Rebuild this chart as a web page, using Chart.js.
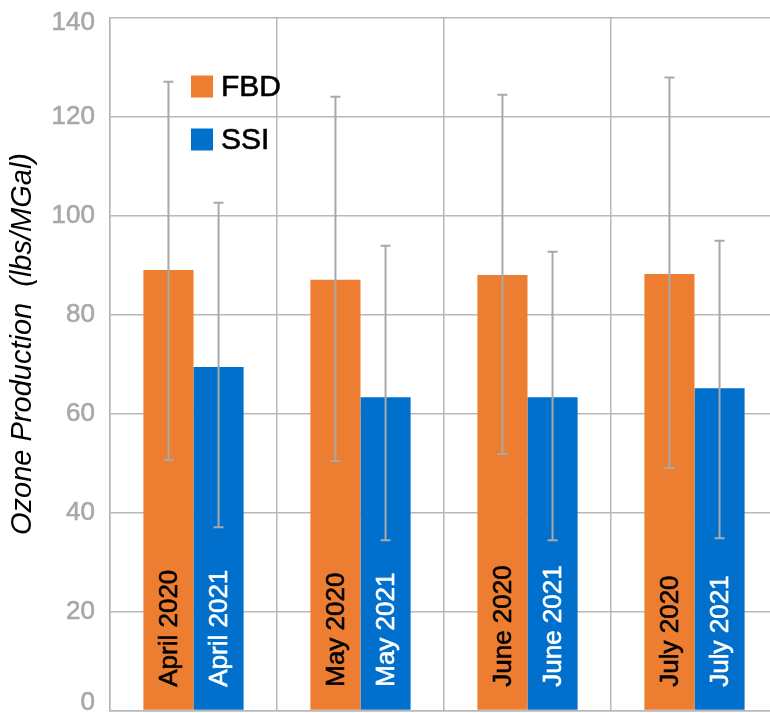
<!DOCTYPE html>
<html>
<head>
<meta charset="utf-8">
<script src="https://cdn.jsdelivr.net/npm/chart.js@4"></script>
<style>
  html, body { margin: 0; padding: 0; background: #fff; overflow: hidden; }
  #wrap { width: 790px; height: 713px; }
</style>
</head>
<body>
<div id="wrap"><canvas id="chart"></canvas></div>
<script>
// Ozone production per month, FBD vs SSI

const months = ["April", "May", "June", "July"];
const fbdLabels = ["April 2020", "May 2020", "June 2020", "July 2020"];
const ssiLabels = ["April 2021", "May 2021", "June 2021", "July 2021"];

const fbdValues = [89.0, 87.0, 88.0, 88.2];
const ssiValues = [69.4, 63.3, 63.3, 65.1];

// error bar ends (low / high)
const fbdLow = [50.6, 50.4, 51.8, 49.0];
const fbdHigh = [127.0, 124.0, 124.4, 127.9];
const ssiLow = [37.0, 34.4, 34.4, 34.8];
const ssiHigh = [102.6, 93.9, 92.7, 94.9];

const yTicks = [0, 20, 40, 60, 80, 100, 120, 140];
const yTitle = "Ozone Production  (lbs/MGal)";

const FONT = "'Liberation Sans', Arial, Helvetica, sans-serif";
const GRID = "#b8b8b8";

// slightly heavier text, closer to the original rendering
function heavyText(ctx, text, x, y, color) {
    ctx.fillStyle = color;
    ctx.strokeStyle = color;
    ctx.lineWidth = 0.6;
    ctx.fillText(text, x, y);
    ctx.strokeText(text, x, y);
}

const errorBars = {
    id: "errorBars",
    afterDatasetsDraw(chart) {
        const ctx = chart.ctx;
        const y = chart.scales.y;
        const ranges = [[fbdLow, fbdHigh], [ssiLow, ssiHigh]];
        ctx.save();
        ctx.strokeStyle = "#a9a9a9";
        ctx.lineWidth = 2;
        ranges.forEach(([lo, hi], di) => {
            chart.getDatasetMeta(di).data.forEach((bar, i) => {
                const yl = y.getPixelForValue(lo[i]);
                const yh = y.getPixelForValue(hi[i]);
                ctx.beginPath();
                ctx.moveTo(bar.x, yl);
                ctx.lineTo(bar.x, yh);
                ctx.moveTo(bar.x - 5, yl);
                ctx.lineTo(bar.x + 5, yl);
                ctx.moveTo(bar.x - 5, yh);
                ctx.lineTo(bar.x + 5, yh);
                ctx.stroke();
            });
        });
        ctx.restore();
    }
};

const barText = {
    id: "barText",
    afterDatasetsDraw(chart) {
        const ctx = chart.ctx;
        const sets = [[fbdLabels, "#000"], [ssiLabels, "#fff"]];
        ctx.save();
        ctx.font = "26px " + FONT;
        ctx.textAlign = "left";
        ctx.textBaseline = "middle";
        sets.forEach(([labels, color], di) => {
            chart.getDatasetMeta(di).data.forEach((bar, i) => {
                ctx.save();
                ctx.translate(bar.x + 1, bar.base - 23);
                ctx.rotate(-Math.PI / 2);
                heavyText(ctx, labels[i], 0, 0, color);
                ctx.restore();
            });
        });
        ctx.restore();
    }
};

// y tick labels + axis title, drawn from the y scale
const yAxisText = {
    id: "yAxisText",
    afterDraw(chart) {
        const ctx = chart.ctx;
        const y = chart.scales.y;
        const area = chart.chartArea;
        ctx.save();
        ctx.font = "26px " + FONT;
        ctx.textAlign = "right";
        ctx.textBaseline = "middle";
        y.ticks.forEach((t) => {
            let py = y.getPixelForValue(t.value);
            py = Math.min(Math.max(py, area.top + 5), area.bottom - 8);
            heavyText(ctx, String(t.value), area.left - 15, py, "#a8a8a8");
        });
        ctx.font = "italic 29px " + FONT;
        ctx.fillStyle = "#000";
        ctx.textAlign = "center";
        ctx.translate(23, (area.top + area.bottom) / 2 - 20);
        ctx.rotate(-Math.PI / 2);
        ctx.fillText(yTitle, 0, 0);
        ctx.restore();
    }
};

const innerLegend = {
    id: "innerLegend",
    afterDraw(chart) {
        const ctx = chart.ctx;
        const area = chart.chartArea;
        ctx.save();
        ctx.font = "30px " + FONT;
        ctx.textBaseline = "middle";
        chart.data.datasets.forEach((ds, i) => {
            const x = area.left + 81;
            const y = area.top + 58 + i * 53;
            ctx.fillStyle = ds.backgroundColor;
            ctx.fillRect(x, y, 22, 22);
            heavyText(ctx, ds.label, x + 30, y + 12, "#000");
        });
        ctx.restore();
    }
};

new Chart(document.getElementById("chart"), {
    type: "bar",
    data: {
        labels: months,
        datasets: [
            {
                label: "FBD",
                data: fbdValues,
                backgroundColor: "#ED7D31",
                barPercentage: 1.0,
                categoryPercentage: 0.6,
            },
            {
                label: "SSI",
                data: ssiValues,
                backgroundColor: "#0070CC",
                barPercentage: 1.0,
                categoryPercentage: 0.6,
            },
        ],
    },
    options: {
        responsive: true,
        maintainAspectRatio: false,
        animation: false,
        layout: { padding: { top: 17.5, bottom: 2.5, right: 12, left: 0 } },
        plugins: {
            legend: { display: false },
            tooltip: { enabled: false },
        },
        scales: {
            x: {
                grid: { color: GRID, lineWidth: 1.5, drawTicks: false, offset: true },
                border: { color: GRID, width: 1.5 },
                ticks: { display: false },
            },
            y: {
                min: 0,
                max: 140,
                afterBuildTicks(scale) {
                    scale.ticks = yTicks.map((v) => ({ value: v }));
                },
                afterFit(scale) {
                    scale.width = 110;
                    scale.paddingTop = 0;
                    scale.paddingBottom = 0;
                },
                grid: { color: GRID, lineWidth: 1.5, drawTicks: false },
                border: { color: GRID, width: 1.5 },
                ticks: { display: false },
            },
        },
    },
    plugins: [errorBars, barText, yAxisText, innerLegend],
});
</script>
</body>
</html>
